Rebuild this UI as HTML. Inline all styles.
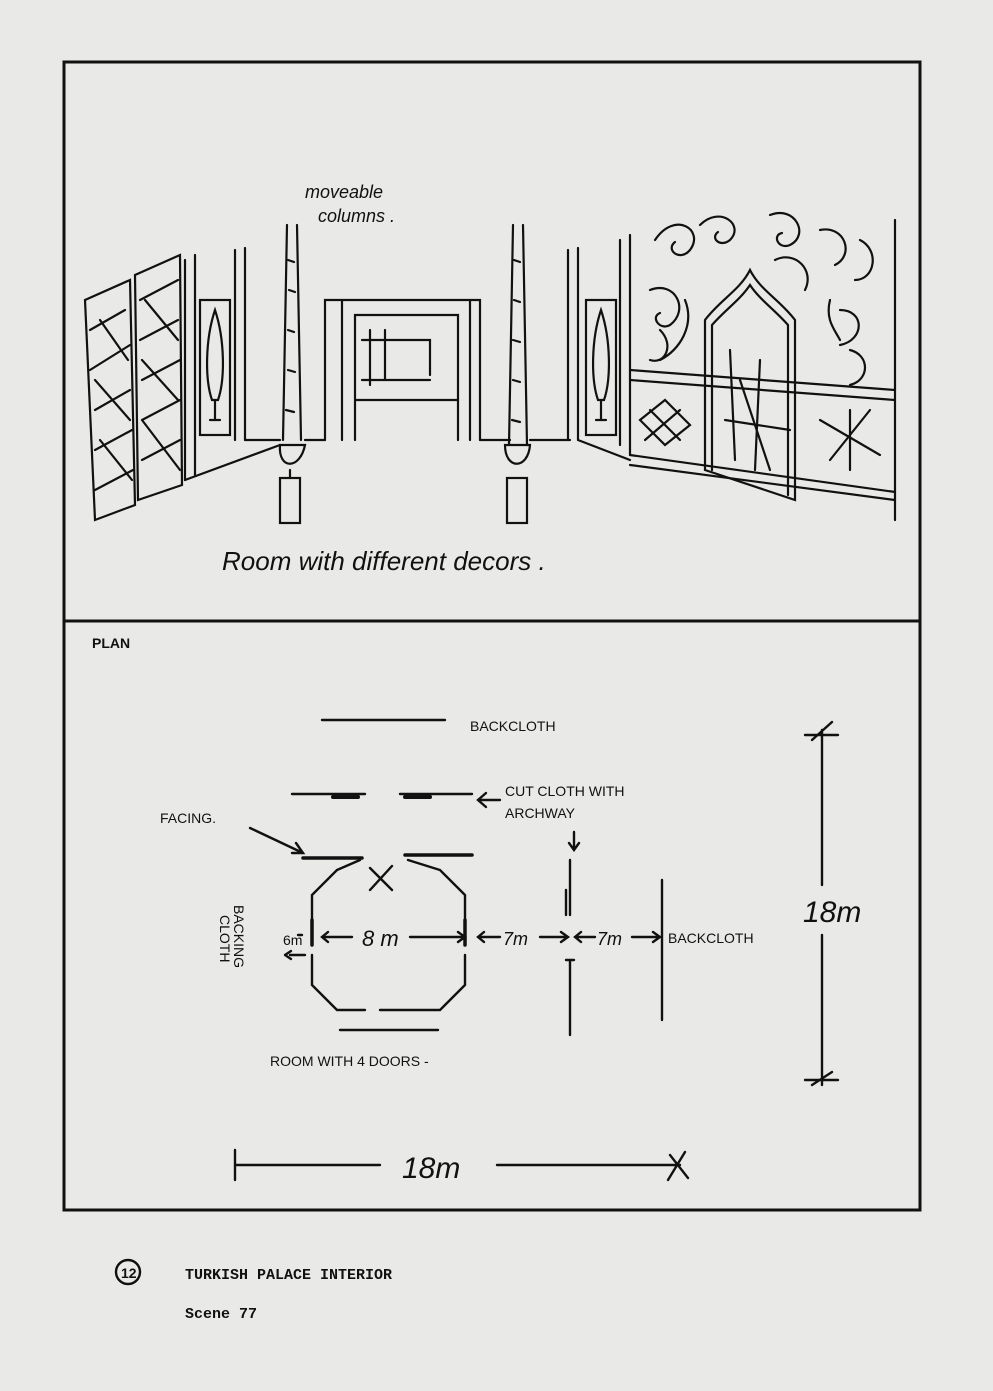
<!DOCTYPE html>
<html><head><meta charset="utf-8"><style>
html,body{margin:0;padding:0;background:#e9e9e7;}
svg{display:block}
.h{font-family:"Liberation Sans",sans-serif;font-style:italic;fill:#111}
.p{font-family:"Liberation Sans",sans-serif;fill:#111;font-size:14px}
.m{font-family:"Liberation Mono",monospace;font-weight:bold;fill:#111;font-size:15px}
</style></head><body>
<svg width="993" height="1391" viewBox="0 0 993 1391" xmlns="http://www.w3.org/2000/svg">
<rect width="993" height="1391" fill="#e9e9e7"/>
<g stroke="#111" fill="none" stroke-linecap="round">
<rect x="64" y="62" width="856" height="1148" stroke-width="3"/>
<line x1="64" y1="621" x2="920" y2="621" stroke-width="3"/>

<g stroke-width="2.2">
<path d="M85 300 L130 280 L135 505 L95 520 Z"/>
<path d="M135 275 L180 255 L182 485 L138 500 Z"/>
<path d="M90 330 L125 310 M90 370 L130 345 M95 410 L130 390 M95 450 L132 430 M95 490 L133 470 M100 320 L128 360 M95 380 L130 420 M100 440 L132 480"/>
<path d="M140 300 L178 280 M140 340 L178 320 M142 380 L180 360 M142 420 L180 400 M142 460 L180 440 M145 300 L178 340 M142 360 L178 400 M142 420 L180 470"/>
<path d="M185 260 L185 480 M195 255 L195 475 M235 250 L235 440 M245 248 L245 440"/>
<rect x="200" y="300" width="30" height="135"/>
<path d="M215 310 C205 340 205 380 212 400 L218 400 C225 380 225 340 215 310 Z M210 420 L220 420 M215 400 L215 420"/>
<path d="M185 480 L280 445 M245 440 L280 440"/>
<path d="M287 225 L283 440 M297 225 L301 440"/>
<path d="M288 260 l6 2 M289 290 l6 2 M288 330 l6 2 M288 370 l7 2 M286 410 l8 2"/>
<path d="M280 445 C278 470 300 470 305 445 Z"/>
<rect x="280" y="478" width="20" height="45"/>
<path d="M290 470 L290 478"/>
<path d="M325 440 L325 300 L342 300 L342 440 M342 300 L470 300 L470 440 M355 440 L355 315 L458 315 L458 440 M325 300 L480 300 L480 440"/>
<path d="M362 340 L430 340 L430 375 M370 330 L370 385 M385 330 L385 380 M362 380 L430 380 M355 400 L458 400"/>
<path d="M305 440 L325 440 M480 440 L510 440"/>
<path d="M513 225 L509 445 M523 225 L527 445"/>
<path d="M514 260 l6 2 M514 300 l6 2 M513 340 l7 2 M513 380 l7 2 M512 420 l8 2"/>
<path d="M505 445 C505 470 528 470 530 445 Z"/>
<rect x="507" y="478" width="20" height="45"/>
<path d="M530 440 L570 440 M568 250 L568 440 M578 248 L578 440 M578 440 L630 460 M620 240 L620 445 M630 235 L630 455"/>
<rect x="586" y="300" width="30" height="135"/>
<path d="M601 310 C591 340 591 380 598 400 L604 400 C611 380 611 340 601 310 Z M596 420 L606 420 M601 400 L601 420"/>
<path d="M630 370 L895 390 M630 380 L895 400 M630 465 L895 500 M630 455 L895 492"/>
<path d="M895 220 L895 520"/>
<path d="M705 470 L705 320 C720 300 740 290 750 270 C760 290 780 300 795 320 L795 500 Z M712 470 L712 325 C725 310 740 300 750 285 C760 300 775 310 788 325 L788 495"/>
<path d="M730 350 L735 460 M760 360 L755 470 M725 420 L790 430 M740 380 L770 470"/>
<path d="M640 420 L665 400 L690 425 L665 445 Z M650 410 L680 440 M645 440 L680 410"/>
<path d="M820 420 L880 455 M830 460 L870 410 M850 410 L850 470"/>
<path d="M655 240 c20 -30 50 -10 35 10 c-10 12 -25 0 -15 -8 M700 225 c20 -20 45 0 30 15 c-10 8 -20 -2 -12 -8 M770 215 c25 -10 40 20 20 30 c-12 5 -18 -10 -8 -12 M820 230 c25 -5 35 25 15 35 M860 240 c20 10 15 40 -5 40 M650 290 c25 -10 40 20 20 35 c-10 6 -20 -8 -10 -12 M775 260 c20 -10 40 10 30 30 M840 310 c25 0 25 30 0 35 M850 350 c20 5 20 30 0 35 M685 300 c10 25 -5 50 -25 60 M830 300 c-5 20 5 30 10 40 M660 330 c15 15 5 35 -10 30"/>
</g>

<g stroke-width="2.4">
<line x1="322" y1="720" x2="445" y2="720"/>
<line x1="292" y1="794" x2="365" y2="794"/><line x1="400" y1="794" x2="472" y2="794"/>
<line x1="333" y1="797" x2="358" y2="797" stroke-width="4"/><line x1="405" y1="797" x2="430" y2="797" stroke-width="4"/>
<path d="M500 800 L478 800 M486 793 L478 800 L486 807"/>
<path d="M250 828 L303 853 M292 853 L303 853 L296 843"/>
<line x1="303" y1="858" x2="362" y2="858" stroke-width="3.5"/><line x1="405" y1="855" x2="472" y2="855" stroke-width="3.5"/>
<path d="M360 860 L337 870 M337 870 L312 895 L312 935 M312 955 L312 985 L337 1010 L365 1010 M380 1010 L440 1010 L465 985 L465 955 M465 935 L465 895 L440 870 L408 860"/>
<path d="M370 868 L392 890 M392 866 L370 890"/>
<line x1="340" y1="1030" x2="438" y2="1030"/>
<path d="M312 920 L312 945 M465 920 L465 945" stroke-width="3.5"/>
<path d="M290 955 L305 955 M285 955 l6 -4 M285 955 l6 4 M298 935 L302 935"/>
<path d="M322 937 L352 937 M328 932 L322 937 L328 942 M410 937 L465 937 M458 932 L465 937 L458 942"/>
<path d="M478 937 L500 937 M484 932 L478 937 L484 942 M540 937 L568 937 M561 932 L568 937 L561 942"/>
<path d="M575 937 L595 937 M581 932 L575 937 L581 942 M632 937 L660 937 M653 932 L660 937 L653 942"/>
<path d="M570 860 L570 915 M566 890 L566 915 M570 960 L570 1035 M566 960 L574 960 M574 832 L574 850 M569 843 L574 850 L579 843"/>
<path d="M662 880 L662 1020"/>
<path d="M822 730 L822 885 M822 935 L822 1085 M812 740 L832 722 M812 1085 L832 1072 M805 735 L838 735 M805 1080 L838 1080"/>
<path d="M235 1165 L380 1165 M497 1165 L680 1165 M235 1150 L235 1180 M670 1155 L688 1178 M685 1152 L668 1180"/>
<circle cx="128" cy="1272" r="12"/>
</g>
</g>

<text class="h" x="305" y="198" font-size="18">moveable</text>
<text class="h" x="318" y="222" font-size="18">columns .</text>
<text class="h" x="222" y="570" font-size="26">Room with different decors .</text>
<text class="p" x="92" y="648" font-weight="bold" font-size="16">PLAN</text>
<text class="p" x="470" y="731">BACKCLOTH</text>
<text class="p" x="505" y="796">CUT CLOTH WITH</text>
<text class="p" x="505" y="818">ARCHWAY</text>
<text class="p" x="160" y="823">FACING.</text>
<text class="p" x="283" y="945" font-size="13">6m</text>
<text class="p" x="234" y="905" font-size="11" transform="rotate(90 234 905)">BACKING</text>
<text class="p" x="220" y="915" font-size="11" transform="rotate(90 220 915)">CLOTH</text>
<text class="h" x="362" y="946" font-size="22">8 m</text>
<text class="h" x="503" y="945" font-size="18">7m</text>
<text class="h" x="597" y="945" font-size="18">7m</text>
<text class="p" x="668" y="943">BACKCLOTH</text>
<text class="h" x="803" y="922" font-size="30">18m</text>
<text class="p" x="270" y="1066">ROOM WITH 4 DOORS -</text>
<text class="h" x="402" y="1178" font-size="30">18m</text>
<text class="p" x="121" y="1278" font-weight="bold" font-size="14">12</text>
<text class="m" x="185" y="1279">TURKISH PALACE INTERIOR</text>
<text class="m" x="185" y="1318">Scene 77</text>
</svg>
</body></html>
